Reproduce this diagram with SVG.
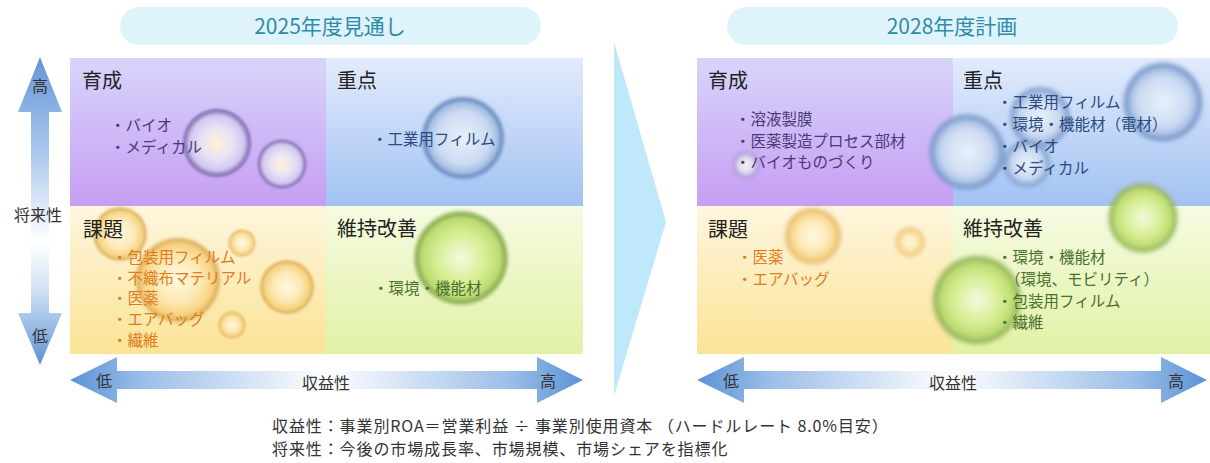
<svg xmlns="http://www.w3.org/2000/svg" width="1210" height="463" viewBox="0 0 1210 463">
<style>
text{font-family:"Noto Sans CJK JP","Noto Sans",sans-serif;}
.title{font-size:21px;fill:#2e8bab;text-anchor:middle;}
.pill{fill:#dff3fa;}
.qlabel{font-size:20px;fill:#222;}
.axc{font-size:16px;fill:#333;text-anchor:middle;}
.it{font-size:15.5px;}
.ip{fill:#4b3a78;}
.ib{fill:#2a4a80;}
.io{fill:#e07b22;}
.ig{fill:#4a7030;}
.note{font-size:16px;fill:#333;letter-spacing:0.9px;}
</style>
<defs>
<linearGradient id="gTL" x1="0" y1="0" x2="0" y2="1"><stop offset="0" stop-color="#d7d5fb"/><stop offset="1" stop-color="#c69ef3"/></linearGradient>
<linearGradient id="gTR" x1="0" y1="0" x2="0" y2="1"><stop offset="0" stop-color="#e2ebfc"/><stop offset="1" stop-color="#a2c2f3"/></linearGradient>
<linearGradient id="gBL" x1="0" y1="0" x2="0" y2="1"><stop offset="0" stop-color="#fef6de"/><stop offset="1" stop-color="#fbe396"/></linearGradient>
<linearGradient id="gBR" x1="0" y1="0" x2="0" y2="1"><stop offset="0" stop-color="#f5fbe2"/><stop offset="1" stop-color="#e1f2a6"/></linearGradient>
<linearGradient id="gV" x1="0" y1="0" x2="0" y2="1"><stop offset="0" stop-color="#6496d6"/><stop offset="0.3" stop-color="#a9c6ec"/><stop offset="0.6" stop-color="#ffffff"/><stop offset="0.75" stop-color="#d4e3f6"/><stop offset="1" stop-color="#5d93d4"/></linearGradient>
<linearGradient id="gH" x1="0" y1="0" x2="1" y2="0"><stop offset="0" stop-color="#5a94d5"/><stop offset="0.15" stop-color="#9ebfe9"/><stop offset="0.5" stop-color="#ffffff"/><stop offset="0.85" stop-color="#9ebfe9"/><stop offset="1" stop-color="#5a94d5"/></linearGradient>
<radialGradient id="bP"><stop offset="0" stop-color="#fff4d4"/><stop offset="0.45" stop-color="#e8e2f6"/><stop offset="0.78" stop-color="#d2c9ef"/><stop offset="0.88" stop-color="#9c88c8"/><stop offset="0.95" stop-color="#8672b4"/><stop offset="1" stop-color="#8672b4" stop-opacity="0"/></radialGradient>
<radialGradient id="bB"><stop offset="0" stop-color="#e8f0fb"/><stop offset="0.6" stop-color="#cddcf3"/><stop offset="0.8" stop-color="#a8c0e4"/><stop offset="0.9" stop-color="#6f90c2"/><stop offset="1" stop-color="#6f90c2" stop-opacity="0"/></radialGradient>
<radialGradient id="bY"><stop offset="0" stop-color="#fffbe6" stop-opacity="0.9"/><stop offset="0.5" stop-color="#fde9b4" stop-opacity="0.85"/><stop offset="0.8" stop-color="#f6cf78" stop-opacity="0.85"/><stop offset="0.91" stop-color="#d9a850" stop-opacity="0.85"/><stop offset="1" stop-color="#d9a850" stop-opacity="0"/></radialGradient>
<radialGradient id="bG"><stop offset="0" stop-color="#f3fbe0"/><stop offset="0.5" stop-color="#d8ee94"/><stop offset="0.8" stop-color="#bcdb72"/><stop offset="0.9" stop-color="#8fb055"/><stop offset="1" stop-color="#8fb055" stop-opacity="0"/></radialGradient>
<filter id="soft" x="-20%" y="-20%" width="140%" height="140%"><feGaussianBlur stdDeviation="1"/></filter>
<filter id="softer" x="-20%" y="-20%" width="140%" height="140%"><feGaussianBlur stdDeviation="2.2"/></filter>
</defs>
<rect width="1210" height="463" fill="#ffffff"/>

<g id="title-2025"><rect class="pill" x="120" y="7" width="421" height="38" rx="19"/><text class="title" x="330" y="34">2025年度見通し</text></g>
<g id="title-2028"><rect class="pill" x="727" y="7" width="451" height="38" rx="19"/><text class="title" x="952" y="34">2028年度計画</text></g>

<polygon id="chevron" points="614,42 666,222 614,396" fill="#bfe8fa"/>

<g id="L-quadrants">
<rect x="70" y="58" width="256" height="148" fill="url(#gTL)"/>
<rect x="326" y="58" width="257" height="148" fill="url(#gTR)"/>
<rect x="70" y="206" width="256" height="148" fill="url(#gBL)"/>
<rect x="326" y="206" width="257" height="148" fill="url(#gBR)"/>
</g>
<g id="R-quadrants">
<rect x="697" y="58" width="256" height="148" fill="url(#gTL)"/>
<rect x="953" y="58" width="257" height="148" fill="url(#gTR)"/>
<rect x="697" y="206" width="256" height="148" fill="url(#gBL)"/>
<rect x="953" y="206" width="257" height="148" fill="url(#gBR)"/>
</g>

<g id="L-bubbles" filter="url(#soft)">
<circle cx="217" cy="143" r="35" fill="url(#bP)"/>
<circle cx="282" cy="164" r="25" fill="url(#bP)"/>
<circle cx="463" cy="138" r="43" fill="url(#bB)"/>
<circle cx="120" cy="234" r="28" fill="url(#bY)"/>
<circle cx="178" cy="280" r="44" fill="url(#bY)"/>
<circle cx="242" cy="243" r="14" fill="url(#bY)"/>
<circle cx="287" cy="287" r="28" fill="url(#bY)"/>
<circle cx="232" cy="325" r="14" fill="url(#bY)"/>
<circle cx="461" cy="258" r="49" fill="url(#bG)"/>
</g>
<g id="R-bubbles" filter="url(#softer)">
<circle cx="746" cy="165" r="13" fill="url(#bP)"/>
<circle cx="1040" cy="117" r="31" fill="url(#bB)"/>
<circle cx="1027" cy="164" r="24" fill="url(#bB)"/>
<circle cx="967" cy="152" r="39" fill="url(#bB)"/>
<circle cx="1163" cy="102" r="41" fill="url(#bB)"/>
<circle cx="813" cy="236" r="29" fill="url(#bY)"/>
<circle cx="910" cy="242" r="15" fill="url(#bY)"/>
<circle cx="1143" cy="218" r="36" fill="url(#bG)"/>
<circle cx="977" cy="300" r="46" fill="url(#bG)"/>
</g>

<g id="L-ikusei"><text class="qlabel" x="82" y="88">育成</text>
<text class="it ip" x="110" y="131">・バイオ</text><text class="it ip" x="110" y="153">・メディカル</text></g>
<g id="L-juten"><text class="qlabel" x="337" y="88">重点</text>
<text class="it ib" x="372" y="145">・工業用フィルム</text></g>
<g id="L-kadai"><text class="qlabel" x="83" y="237">課題</text>
<text class="it io" x="112" y="263">・包装用フィルム</text>
<text class="it io" x="112" y="284">・不織布マテリアル</text>
<text class="it io" x="112" y="304">・医薬</text>
<text class="it io" x="112" y="325">・エアバッグ</text>
<text class="it io" x="112" y="346">・繊維</text></g>
<g id="L-iji"><text class="qlabel" x="337" y="236">維持改善</text>
<text class="it ig" x="373" y="294">・環境・機能材</text></g>

<g id="R-ikusei"><text class="qlabel" x="708" y="88">育成</text>
<text class="it ip" x="735" y="125">・溶液製膜</text>
<text class="it ip" x="735" y="147">・医薬製造プロセス部材</text>
<text class="it ip" x="735" y="168">・バイオものづくり</text></g>
<g id="R-juten"><text class="qlabel" x="963" y="88">重点</text>
<text class="it ib" x="997" y="108">・工業用フィルム</text>
<text class="it ib" x="997" y="130">・環境・機能材（電材）</text>
<text class="it ib" x="997" y="152">・バイオ</text>
<text class="it ib" x="997" y="174">・メディカル</text></g>
<g id="R-kadai"><text class="qlabel" x="708" y="237">課題</text>
<text class="it io" x="737" y="263">・医薬</text>
<text class="it io" x="737" y="285">・エアバッグ</text></g>
<g id="R-iji"><text class="qlabel" x="963" y="236">維持改善</text>
<text class="it ig" x="997" y="263">・環境・機能材</text>
<text class="it ig" x="1005" y="285">（環境、モビリティ）</text>
<text class="it ig" x="997" y="307">・包装用フィルム</text>
<text class="it ig" x="997" y="328">・繊維</text></g>

<g id="connectors">
<polygon points="40,57 62,112 49,112 49,313 62,313 40,365 18,313 31,313 31,112 18,112" fill="url(#gV)"/>
<polygon points="70,380 117,357 117,371 537,371 537,357 583,380 537,403 537,389 117,389 117,403" fill="url(#gH)"/>
<polygon points="697,380 744,357 744,371 1161,371 1161,357 1207,380 1161,403 1161,389 744,389 744,403" fill="url(#gH)"/>
</g>
<g id="axis-labels">
<text class="axc" x="40" y="92">高</text>
<text class="axc" x="38" y="221">将来性</text>
<text class="axc" x="40" y="342">低</text>
<text class="axc" x="104" y="387">低</text>
<text class="axc" x="326" y="389">収益性</text>
<text class="axc" x="548" y="387">高</text>
<text class="axc" x="731" y="387">低</text>
<text class="axc" x="953" y="389">収益性</text>
<text class="axc" x="1176" y="387">高</text>
</g>

<g id="notes">
<text class="note" x="272" y="432">収益性：事業別ROA＝営業利益 ÷ 事業別使用資本 （ハードルレート 8.0%目安）</text>
<text class="note" x="272" y="455">将来性：今後の市場成長率、市場規模、市場シェアを指標化</text>
</g>
</svg>
